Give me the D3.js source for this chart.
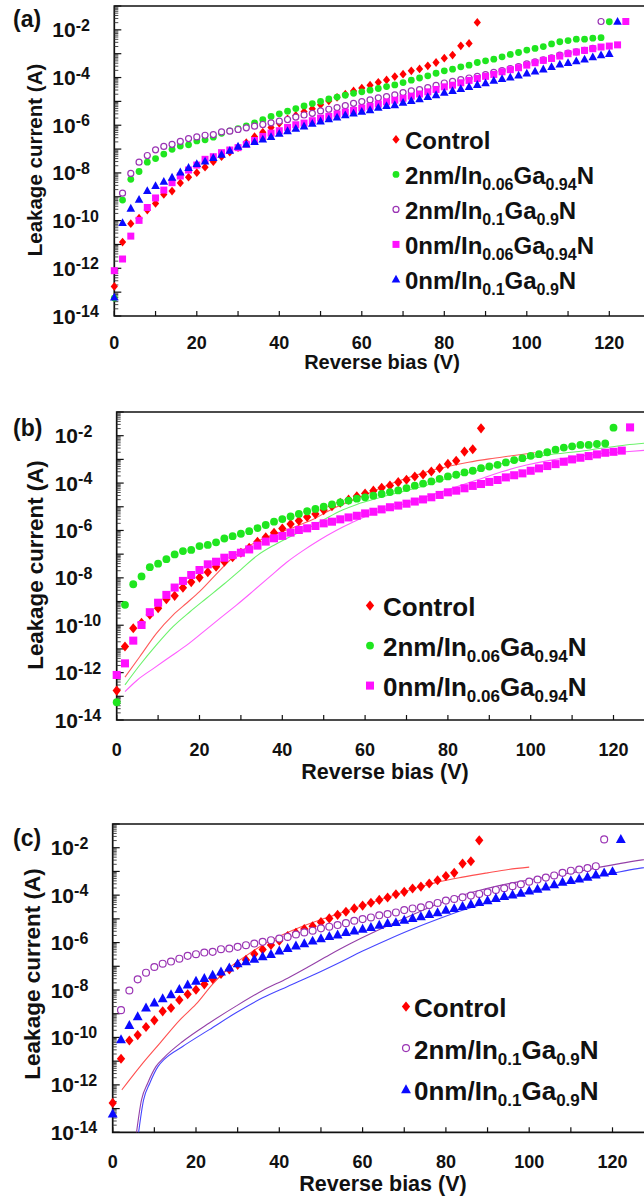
<!DOCTYPE html>
<html>
<head>
<meta charset="utf-8">
<script src="https://cdn.jsdelivr.net/npm/d3@7"></script>
<style>
  body { margin: 0; background: #fff; }
  svg { display: block; }
  text { font-family: Arial, "Liberation Sans", sans-serif; font-weight: bold; fill: #111; }
</style>
</head>
<body>
<svg id="fig" width="644" height="1198"></svg>
<script>
// reverse bias steps (V), shared by every measured series
const biasV = [0,2,4,6,8,10,12,14,16,18,20,22,24,26,28,30,32,34,36,38,40,42,44,46,48,50,52,54,56,58,60,
  62,64,66,68,70,72,74,76,78,80,82,84,86,88,90,92,94,96,98,100,102,104,106,108,110,112,114,116,118,120,122,124];

const controlLogI = [-12.76,-10.90,-10.13,-9.90,-9.56,-9.28,-8.90,-8.76,-8.42,-8.18,-7.99,-7.76,-7.53,-7.32,-7.13,
  -6.94,-6.73,-6.48,-6.29,-6.10,-5.92,-5.73,-5.59,-5.43,-5.31,-5.14,-4.98,-4.83,-4.70,-4.56,-4.44,-4.32,-4.20,
  -4.10,-3.96,-3.86,-3.72,-3.64,-3.51,-3.37,-3.19,-3.06,-2.67,-2.57,-1.69];
const g06LogI = [-13.25,-9.14,-8.27,-7.94,-7.55,-7.40,-7.21,-7.01,-6.87,-6.82,-6.66,-6.61,-6.50,-6.34,-6.24,
  -6.14,-6.03,-5.90,-5.77,-5.63,-5.52,-5.41,-5.30,-5.19,-5.09,-5.00,-4.90,-4.82,-4.74,-4.66,-4.60,-4.53,-4.46,
  -4.38,-4.31,-4.21,-4.11,-4.02,-3.93,-3.82,-3.72,-3.65,-3.55,-3.48,-3.37,-3.30,-3.23,-3.13,-3.03,-2.95,-2.85,
  -2.78,-2.70,-2.59,-2.50,-2.45,-2.39,-2.39,-2.35,-2.33,-1.66];
const g10LogI = [null,-8.85,-8.02,-7.55,-7.27,-7.03,-6.89,-6.80,-6.68,-6.56,-6.49,-6.42,-6.39,-6.28,-6.25,
  -6.18,-6.11,-6.04,-5.97,-5.90,-5.83,-5.76,-5.66,-5.57,-5.50,-5.40,-5.33,-5.26,-5.18,-5.08,-5.01,-4.94,-4.85,
  -4.80,-4.73,-4.63,-4.56,-4.51,-4.42,-4.33,-4.23,-4.16,-4.09,-4.02,-3.95,-3.88,-3.78,-3.71,-3.62,-3.54,-3.43,
  -3.34,-3.26,-3.17,-3.06,-2.97,-2.92,-2.86,-2.78,-1.65];
const n06LogI = [-12.10,-11.61,-10.65,-9.99,-9.45,-9.05,-8.72,-8.41,-8.13,-7.88,-7.67,-7.43,-7.32,-7.15,-7.04,
  -6.94,-6.80,-6.64,-6.47,-6.33,-6.23,-6.09,-5.98,-5.91,-5.81,-5.70,-5.63,-5.53,-5.45,-5.38,-5.28,-5.21,-5.11,
  -5.02,-4.95,-4.87,-4.78,-4.69,-4.60,-4.50,-4.39,-4.32,-4.22,-4.12,-4.04,-3.95,-3.87,-3.76,-3.67,-3.59,-3.48,
  -3.38,-3.28,-3.20,-3.10,-3.00,-2.93,-2.86,-2.79,-2.72,-2.68,-2.63,-1.65];
const n10LogI = [-13.22,-10.09,-9.49,-9.12,-8.75,-8.54,-8.36,-8.19,-7.97,-7.78,-7.62,-7.51,-7.37,-7.23,-7.06,
  -6.89,-6.80,-6.70,-6.59,-6.49,-6.35,-6.24,-6.14,-6.04,-5.93,-5.83,-5.74,-5.67,-5.57,-5.50,-5.43,-5.36,-5.26,
  -5.19,-5.15,-5.05,-4.98,-4.90,-4.81,-4.73,-4.63,-4.56,-4.47,-4.39,-4.30,-4.23,-4.13,-4.05,-3.99,-3.91,-3.82,
  -3.74,-3.65,-3.55,-3.45,-3.38,-3.31,-3.24,-3.14,-3.06,-3.00,-1.65];

// simulated curves, [bias V, log10(I / A)]
const simControlB = [[2,-12.19],[5.6,-11.32],[9.6,-10.34],[13.6,-9.57],[17,-9.05],[20,-8.58],[24,-7.85],[28,-7.15],
  [32,-6.65],[36,-6.30],[40,-6.05],[44,-5.78],[48,-5.48],[52,-5.10],[56,-4.80],[60,-4.50],[65,-4.12],[70,-3.80],
  [75,-3.52],[80,-3.30],[85,-3.12],[90,-2.98],[95,-2.86],[101,-2.72]];
const simG06 = [[2,-12.52],[5.6,-11.68],[9.6,-10.83],[13.6,-10.06],[17.7,-9.43],[21.7,-8.86],[26,-8.25],[30,-7.65],
  [34,-7.05],[38,-6.62],[42,-6.25],[46,-5.92],[50,-5.55],[54,-5.18],[58,-4.90],[63,-4.64],[69,-4.36],[75,-4.08],
  [81,-3.73],[87,-3.48],[93,-3.17],[99,-2.96],[105,-2.79],[111,-2.68],[117,-2.53],[123,-2.39],[130,-2.28]];
const simN06 = [[2,-12.80],[5,-12.31],[9,-11.81],[13,-11.32],[17,-10.83],[21,-10.27],[25,-9.70],[29,-9.14],
  [33,-8.55],[37,-7.95],[41,-7.35],[45,-6.85],[49,-6.40],[53,-6.00],[57,-5.65],[61,-5.35],[65,-5.10],[70,-4.85],
  [75,-4.57],[81,-4.22],[87,-3.87],[93,-3.52],[99,-3.24],[105,-3.03],[111,-2.89],[117,-2.75],[123,-2.68],[130,-2.58]];
const simControlC = [[2.2,-12.21],[6.6,-11.22],[11.4,-10.23],[16.2,-9.25],[20,-8.6],[24,-7.75],[28,-7.06],
  [32,-6.56],[37,-6.00],[42,-5.57],[48,-5.15],[54,-4.80],[60,-4.44],[66,-4.09],[72,-3.74],[78,-3.45],[84,-3.24],
  [90,-3.06],[95,-2.92],[100,-2.82]];
const simG10 = [[5.5,-14.3],[6.9,-12.64],[8.4,-11.93],[10.4,-11.22],[12.2,-10.87],[16.8,-10.17],[23.2,-9.39],
  [29.6,-8.68],[36,-8.02],[42,-7.50],[47,-7.02],[52,-6.52],[57,-6.05],[62,-5.62],[67,-5.22],[72,-4.83],
  [77,-4.45],[82,-4.12],[87,-3.85],[92,-3.63],[97,-3.45],[102,-3.30],[107,-3.15],[112,-3.00],
  [117,-2.82],[122,-2.66],[130,-2.44]];
const simN10 = [[6,-14.3],[7.4,-12.64],[8.9,-11.93],[10.9,-11.22],[12.3,-10.94],[16.8,-10.38],[23.2,-9.67],
  [29.6,-8.96],[36,-8.33],[42,-7.85],[48,-7.38],[54,-6.88],[60,-6.36],[66,-5.88],[72,-5.43],[78,-5.02],
  [84,-4.64],[90,-4.32],[96,-4.03],[102,-3.78],[108,-3.53],[114,-3.29],[120,-3.08],[126,-2.88],[130,-2.78]];

const xTickValues = [0,20,40,60,80,100,120];
const yTickExponents = [-2,-4,-6,-8,-10,-12,-14];

// series styles and legend text (label parts: [text, isSubscript])
const series = {
  control: { logI: controlLogI, shape: 'diamond', color: '#ff0000', label: [['Control', 0]] },
  g06: { logI: g06LogI, shape: 'dot', color: '#1fe61f',
         label: [['2nm/In', 0], ['0.06', 1], ['Ga', 0], ['0.94', 1], ['N', 0]] },
  g10: { logI: g10LogI, shape: 'ring', color: '#9a34b4',
         label: [['2nm/In', 0], ['0.1', 1], ['Ga', 0], ['0.9', 1], ['N', 0]] },
  n06: { logI: n06LogI, shape: 'square', color: '#ff10ff',
         label: [['0nm/In', 0], ['0.06', 1], ['Ga', 0], ['0.94', 1], ['N', 0]] },
  n10: { logI: n10LogI, shape: 'triangle', color: '#0a0aff',
         label: [['0nm/In', 0], ['0.1', 1], ['Ga', 0], ['0.9', 1], ['N', 0]] }
};

const panels = [
  { tag: '(a)', tagY: 27, left: 114.3, top: 6, bottom: 316, k: 4.125, ms: 1,
    keys: ['control', 'g06', 'g10', 'n06', 'n10'], lines: [],
    xLabY: 349, titleX: 382, titleY: 369, titleFs: 20, yLabX: 42, yLabY: 160, yLabFs: 20.5,
    legend: { mx: 396, tx: 405, y0: 149, dy: 35, fs: 24, sfs: 16 } },
  { tag: '(b)', tagY: 436, left: 116.7, top: 412, bottom: 720, k: 4.14, ms: 1.15,
    keys: ['control', 'g06', 'n06'],
    lines: [[simControlB, '#ff5a5a'], [simG06, '#6cf26c'], [simN06, '#ff5cff']],
    xLabY: 756, titleX: 385, titleY: 779, titleFs: 21.5, yLabX: 43, yLabY: 565, yLabFs: 22.3,
    legend: { mx: 370, tx: 383, y0: 616, dy: 40, fs: 26, sfs: 17 } },
  { tag: '(c)', tagY: 846, left: 112.7, top: 824, bottom: 1132.3, k: 4.165, ms: 1.15,
    keys: ['control', 'g10', 'n10'],
    lines: [[simControlC, '#ff5050'], [simG10, '#9440a8'], [simN10, '#4646ff']],
    xLabY: 1168, titleX: 383, titleY: 1191, titleFs: 21.5, yLabX: 40, yLabY: 974, yLabFs: 22.5,
    legend: { mx: 406, tx: 414, y0: 1017, dy: 41.5, fs: 26, sfs: 17 } }
];

const svg = d3.select('#fig');

function addMarker(g, shape, color, x, y, s = 1) {
  if (shape === 'dot') {
    g.append('circle').attr('cx', x).attr('cy', y).attr('r', 3.4 * s).attr('fill', color);
  } else if (shape === 'ring') {
    g.append('circle').attr('cx', x).attr('cy', y).attr('r', 3 * s).attr('fill', '#fff')
      .attr('stroke', color).attr('stroke-width', 1.2);
  } else {
    let d;
    if (shape === 'diamond') d = 'M0,-4.4L3.6,0L0,4.4L-3.6,0Z';
    else if (shape === 'square') d = 'M-3.5,-3.5H3.5V3.5H-3.5Z';
    else d = 'M0,-4.6L4.3,3.2L-4.3,3.2Z';
    g.append('path').attr('d', d).attr('transform', `translate(${x},${y}) scale(${s})`).attr('fill', color);
  }
}

panels.forEach((p, pi) => {
  const x = d3.scaleLinear().domain([0, 120]).range([p.left, p.left + 120 * p.k]);
  const y = d3.scaleLog().domain([1e-14, 1e-1]).range([p.bottom, p.top]);
  const g = svg.append('g');

  // frame
  g.append('path')
    .attr('d', `M644,${p.top}H${p.left}V${p.bottom}H644`)
    .attr('fill', 'none').attr('stroke', '#111').attr('stroke-width', 1.7);

  // y ticks, inward, with log minor ticks
  for (let e = -14; e <= -1; e++) {
    const yy = y(Math.pow(10, e));
    g.append('line').attr('x1', p.left).attr('x2', p.left + 7).attr('y1', yy).attr('y2', yy)
      .attr('stroke', '#111').attr('stroke-width', 1.2);
    if (e < -1) {
      for (let m = 2; m <= 9; m++) {
        const ym = y(m * Math.pow(10, e));
        g.append('line').attr('x1', p.left).attr('x2', p.left + 4).attr('y1', ym).attr('y2', ym)
          .attr('stroke', '#333').attr('stroke-width', 0.9);
      }
    }
  }
  yTickExponents.forEach(e => {
    const yy = y(Math.pow(10, e));
    const t = g.append('text').attr('x', p.left - 62).attr('y', yy + 7.5).attr('font-size', 21);
    t.append('tspan').text('10');
    t.append('tspan').attr('font-size', 16).attr('dy', -6.5).text(String(e));
  });

  // x ticks every 10 V, inward
  d3.range(0, 131, 10).forEach(v => {
    g.append('line').attr('x1', x(v)).attr('x2', x(v)).attr('y1', p.bottom).attr('y2', p.bottom - 5)
      .attr('stroke', '#111').attr('stroke-width', 1.2);
  });
  xTickValues.forEach(v => {
    g.append('text').attr('x', x(v)).attr('y', p.xLabY).attr('text-anchor', 'middle')
      .attr('font-size', 18).text(v);
  });

  // axis titles and panel tag
  g.append('text').attr('x', p.titleX).attr('y', p.titleY).attr('text-anchor', 'middle')
    .attr('font-size', p.titleFs).text('Reverse bias (V)');
  g.append('text').attr('transform', `translate(${p.yLabX},${p.yLabY}) rotate(-90)`)
    .attr('text-anchor', 'middle').attr('font-size', p.yLabFs).text('Leakage current (A)');
  g.append('text').attr('x', 13).attr('y', p.tagY).attr('font-size', 23).text(p.tag);

  // simulated curves, clipped to the plot area
  const clipId = 'clip' + pi;
  svg.append('clipPath').attr('id', clipId).append('rect')
    .attr('x', p.left).attr('y', p.top).attr('width', 644 - p.left).attr('height', p.bottom - p.top);
  const line = d3.line().curve(d3.curveMonotoneX)
    .x(d => x(d[0])).y(d => y(Math.pow(10, d[1])));
  p.lines.forEach(([pts, color]) => {
    g.append('path').attr('d', line(pts)).attr('clip-path', `url(#${clipId})`)
      .attr('fill', 'none').attr('stroke', color).attr('stroke-width', 1.1);
  });

  // measured points
  p.keys.forEach(key => {
    const s = series[key];
    const mg = g.append('g');
    s.logI.forEach((v, i) => {
      if (v === null) return;
      addMarker(mg, s.shape, s.color, x(biasV[i]), y(Math.pow(10, v)), p.ms);
    });
  });

  // legend
  const L = p.legend;
  p.keys.forEach((key, i) => {
    const s = series[key];
    const by = L.y0 + i * L.dy;
    addMarker(g, s.shape, s.color, L.mx, by - L.fs * 0.4, p.ms);
    const t = g.append('text').attr('x', L.tx).attr('y', by).attr('font-size', L.fs);
    let shifted = false;
    s.label.forEach(([txt, sub]) => {
      const ts = t.append('tspan').text(txt);
      if (sub && !shifted) { ts.attr('font-size', L.sfs).attr('dy', 6); shifted = true; }
      else if (!sub && shifted) { ts.attr('dy', -6); shifted = false; }
    });
  });
});
</script>
</body>
</html>
